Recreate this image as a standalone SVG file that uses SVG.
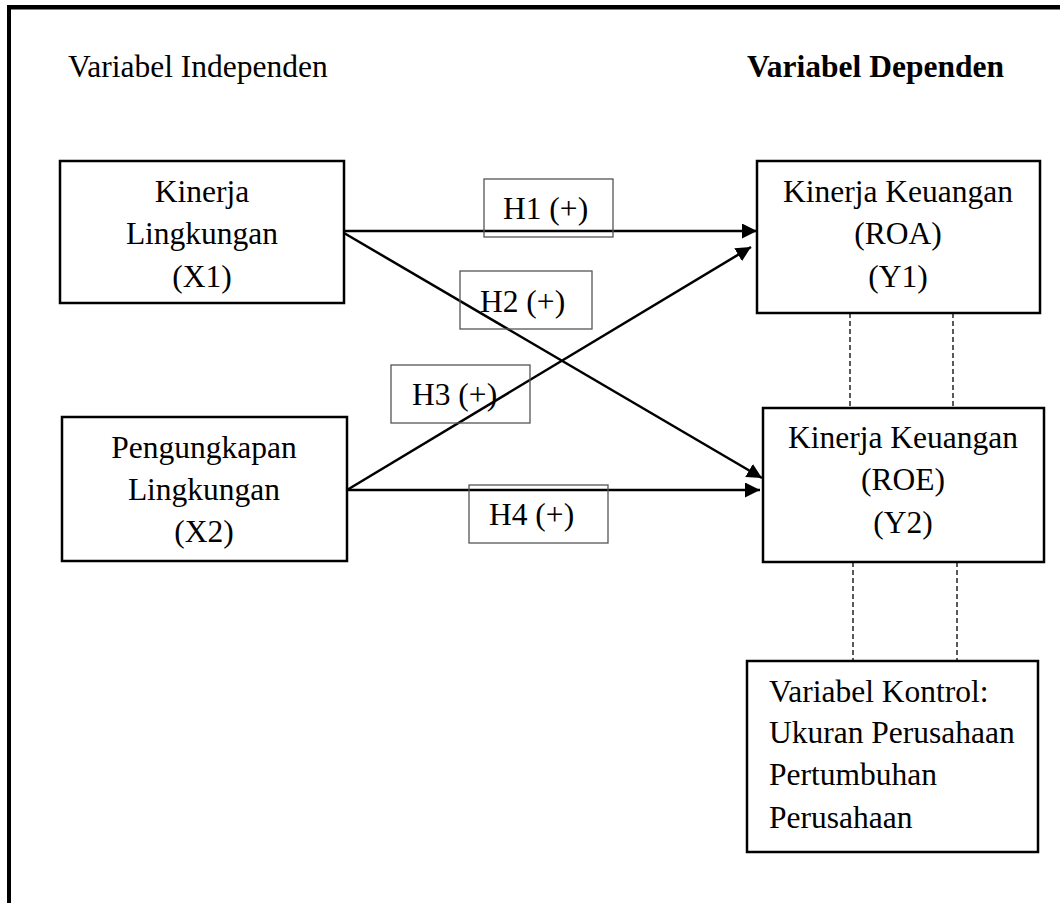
<svg xmlns="http://www.w3.org/2000/svg" width="1060" height="903" viewBox="0 0 1060 903">
<style>
.t{font-family:"Liberation Serif","Times New Roman",serif;font-size:31.5px;fill:#000}
.c{text-anchor:middle}
.b{font-weight:bold}
.box{fill:#fff;stroke:#000;stroke-width:2.5}
.lab{fill:none;stroke:#555;stroke-width:1.3}
.ar{stroke:#000;stroke-width:2.5;fill:none}
.dash{stroke:#000;stroke-width:1.3;stroke-dasharray:5,3;fill:none}
</style>
<defs>
<marker id="ah" viewBox="0 0 10 10" refX="10" refY="5" markerWidth="15" markerHeight="15" markerUnits="userSpaceOnUse" orient="auto">
<path d="M0,0 L10,5 L0,10 z" fill="#000"/>
</marker>
</defs>
<rect x="0" y="0" width="1060" height="903" fill="#fff"/>
<g id="frame">
<rect x="7" y="5" width="1053" height="4.5" fill="#000"/>
<rect x="7" y="5" width="4" height="898" fill="#000"/>
</g>
<text class="t" x="68" y="77">Variabel Independen</text>
<text class="t b" x="747" y="77">Variabel Dependen</text>
<g id="connectors">
<line class="ar" x1="344" y1="231" x2="757" y2="231" marker-end="url(#ah)"/>
<line class="ar" x1="344" y1="233" x2="762" y2="478" marker-end="url(#ah)"/>
<line class="ar" x1="347" y1="490" x2="751" y2="247" marker-end="url(#ah)"/>
<line class="ar" x1="347" y1="490" x2="760" y2="490" marker-end="url(#ah)"/>
<line class="dash" x1="850" y1="313" x2="850" y2="408"/>
<line class="dash" x1="953" y1="313" x2="953" y2="408"/>
<line class="dash" x1="853" y1="562" x2="853" y2="661"/>
<line class="dash" x1="957" y1="562" x2="957" y2="661"/>
</g>
<g id="h1"><rect class="lab" x="484" y="179" width="129" height="58"/><text class="t" x="503" y="219">H1 (+)</text></g>
<g id="h2"><rect class="lab" x="460" y="271" width="132" height="58"/><text class="t" x="480" y="312">H2 (+)</text></g>
<g id="h3"><rect class="lab" x="391" y="365" width="139" height="58"/><text class="t" x="412" y="405">H3 (+)</text></g>
<g id="h4"><rect class="lab" x="469" y="485" width="139" height="58"/><text class="t" x="489" y="525">H4 (+)</text></g>
<g id="x1">
<rect class="box" x="60" y="161" width="284" height="142"/>
<text class="t c" x="202" y="202">Kinerja</text>
<text class="t c" x="202" y="244">Lingkungan</text>
<text class="t c" x="202" y="287">(X1)</text>
</g>
<g id="x2">
<rect class="box" x="62" y="417" width="285" height="144"/>
<text class="t c" x="204" y="458">Pengungkapan</text>
<text class="t c" x="204" y="500">Lingkungan</text>
<text class="t c" x="204" y="542">(X2)</text>
</g>
<g id="y1">
<rect class="box" x="757" y="161" width="283" height="152"/>
<text class="t c" x="898" y="202">Kinerja Keuangan</text>
<text class="t c" x="898" y="244">(ROA)</text>
<text class="t c" x="898" y="287">(Y1)</text>
</g>
<g id="y2">
<rect class="box" x="763" y="408" width="281" height="154"/>
<text class="t c" x="903" y="448">Kinerja Keuangan</text>
<text class="t c" x="903" y="490">(ROE)</text>
<text class="t c" x="903" y="533">(Y2)</text>
</g>
<g id="control">
<rect class="box" x="747" y="661" width="291" height="191"/>
<text class="t" x="769" y="702">Variabel Kontrol:</text>
<text class="t" x="769" y="743">Ukuran Perusahaan</text>
<text class="t" x="769" y="785">Pertumbuhan</text>
<text class="t" x="769" y="828">Perusahaan</text>
</g>
</svg>
